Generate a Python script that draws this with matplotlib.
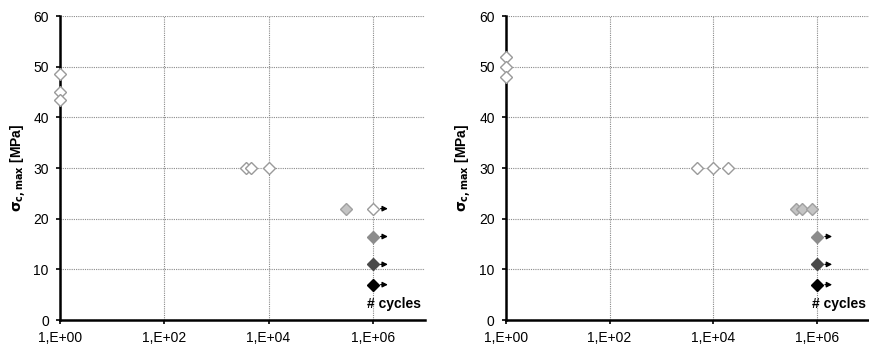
import numpy as np
import matplotlib
matplotlib.use('Agg')
from matplotlib import pyplot as plt
from matplotlib.ticker import FixedLocator, FuncFormatter

plt.rcParams['font.family'] = ['Liberation Sans', 'DejaVu Sans']

# left panel
l_open_x = [1, 1, 1, 3.7e3, 4.7e3, 1e4, 1e6]
l_open_y = [48.5, 45, 43.5, 30, 30, 30, 22]
l_light_x = [3e5]
l_light_y = [22]
l_runout_x = [1e6, 1e6, 1e6]
l_runout_y = [16.5, 11, 7]
l_arrow_y = [22, 16.5, 11, 7]

# right panel
r_open_x = [1, 1, 1, 4.9e3, 1e4, 1.9e4]
r_open_y = [52, 50, 48, 30, 30, 30]
r_light_x = [3.9e5, 5.2e5, 8e5]
r_light_y = [22, 22, 22]
r_runout_x = [1e6, 1e6, 1e6]
r_runout_y = [16.5, 11, 7]
r_arrow_y = [16.5, 11, 7]

runout_colors = ['#8c8c8c', '#4a4a4a', '#000000']
x_ticks = [1, 1e2, 1e4, 1e6]
y_ticks = [0, 10, 20, 30, 40, 50, 60]


def draw_panel(ax, ox, oy, lx, ly, rx, ry, ay):
    ax.set_xscale('log')
    ax.set_xlim(1, 1e7)
    ax.set_ylim(0, 60)
    ax.plot(ox, oy, 'D', ms=6.5, mfc='white', mec='#9a9a9a', mew=1, clip_on=False, zorder=5)
    ax.plot(lx, ly, 'D', ms=6.5, mfc='#c4c4c4', mec='#a0a0a0', mew=1, clip_on=False, zorder=5)
    for x, y, c in zip(rx, ry, runout_colors):
        ax.plot(x, y, 'D', ms=6.5, mfc=c, mec=c, mew=1, zorder=5)
    for y in ay:
        ax.annotate('', xy=(2.2e6, y), xytext=(1.25e6, y),
                    arrowprops=dict(arrowstyle='-|>', color='k', lw=0.9, mutation_scale=8))
    ax.text(2.6e6, 3.2, '# cycles', fontsize=10, fontweight='bold', ha='center', va='center')

    ax.xaxis.set_major_locator(FixedLocator(x_ticks))
    ax.xaxis.set_minor_locator(FixedLocator([]))
    ax.xaxis.set_major_formatter(FuncFormatter(lambda v, p: '1,E+%02d' % round(np.log10(v))))
    ax.set_yticks(y_ticks)
    ax.tick_params(labelsize=10, length=3, width=1.2, colors='black', pad=5)
    ax.grid(True, color='#8a8a8a', linestyle=(0, (1, 1)), lw=0.8)
    ax.set_axisbelow(True)
    for s in ['top', 'right']:
        ax.spines[s].set_visible(False)
    for s in ['left', 'bottom']:
        ax.spines[s].set_linewidth(1.8)
    ax.set_ylabel(r'$\mathbf{\sigma_{c,max}}$ [MPa]', fontsize=10, fontweight='bold', labelpad=4)


fig = plt.figure(figsize=(8.69, 3.51), dpi=100)
ax1 = fig.add_axes([0.069, 0.088, 0.42, 0.866])
ax2 = fig.add_axes([0.582, 0.088, 0.418, 0.866])

draw_panel(ax1, l_open_x, l_open_y, l_light_x, l_light_y, l_runout_x, l_runout_y, l_arrow_y)
draw_panel(ax2, r_open_x, r_open_y, r_light_x, r_light_y, r_runout_x, r_runout_y, r_arrow_y)

fig.savefig('out.png', dpi=100)
